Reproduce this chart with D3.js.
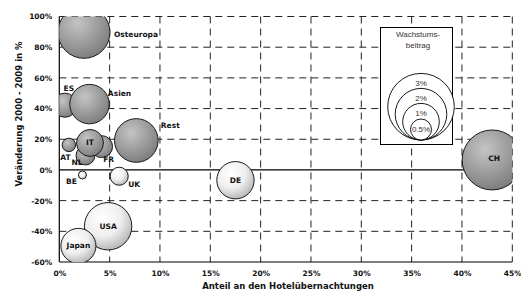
<!DOCTYPE html>
<html lang="de">
<head>
<meta charset="UTF-8">
<script src="https://cdn.jsdelivr.net/npm/d3@7"></script>
<style>
	body { margin: 0; background: #fff; }
	svg { display: block; }
	.tick text { font-family: "DejaVu Sans", Verdana, sans-serif; font-weight: bold; font-size: 7.5px; fill: #111; }
	.lbl { font-family: "DejaVu Sans", Verdana, sans-serif; font-weight: bold; font-size: 7.5px; fill: #111; }
	.title { font-family: "DejaVu Sans", Verdana, sans-serif; font-weight: bold; font-size: 8.5px; fill: #111; }
	.leg { font-family: "Liberation Sans", Arial, sans-serif; font-size: 8px; fill: #333; }
</style>
</head>
<body>
<script>
	// ---- data ----
	const countries = ["Osteuropa", "ES", "Asien", "Rest", "FR", "NL", "AT", "IT", "BE", "UK", "DE", "USA", "Japan", "CH"];
	const share = [2.45, 0.55, 3.0, 7.65, 4.2, 2.6, 0.95, 3.05, 2.3, 5.95, 17.5, 4.85, 1.9, 43.0];      // Anteil in %
	const change = [89.7, 42.2, 42.9, 19.2, 15.2, 9.4, 16.3, 17.6, -3.3, -4.1, -6.7, -36.7, -49.5, 6.5]; // Veränderung in %
	const contrib = [2.03, 0.6, 1.19, 1.47, 0.53, 0.45, 0.32, 0.69, 0.19, 0.43, 1.05, 1.72, 0.95, 2.56]; // Wachstumsbeitrag in %

	const xTicks = [0, 5, 10, 15, 20, 25, 30, 35, 40, 45];
	const yTicks = [-60, -40, -20, 0, 20, 40, 60, 80, 100];
	const legendValues = [3, 2, 1, 0.5];
	const legendLabels = ["3%", "2%", "1%", "0.5%"];

	// ---- layout ----
	const W = 521, H = 297;
	const plot = { left: 59.3, right: 512.3, top: 16.5, bottom: 262 };

	const x = d3.scaleLinear().domain([0, 45]).range([plot.left, plot.right]);
	const y = d3.scaleLinear().domain([-60, 100]).range([plot.bottom, plot.top]);
	// bubble size scale as drawn in the legend
	const r = d3.scaleLinear().domain([0, 0.5, 1, 2, 3]).range([0, 10.5, 18.3, 25.8, 33.3]);

	// where the label sits relative to the bubble centre
	const labelOffset = {
		"Osteuropa": [52, 2], "ES": [4, -17], "Asien": [30, -11], "Rest": [34, -15],
		"AT": [-3.5, 13], "NL": [-8.5, 7], "FR": [7, 13], "BE": [-11, 6], "UK": [15, 8],
		"CH": [2, -1]
	};

	const data = countries.map((c, i) => ({ name: c, share: share[i], change: change[i], contrib: contrib[i] }));

	const svg = d3.select("body").append("svg").attr("width", W).attr("height", H);

	const defs = svg.append("defs");
	const gDark = defs.append("radialGradient").attr("id", "gDark")
		.attr("cx", "38%").attr("cy", "32%").attr("r", "72%");
	gDark.append("stop").attr("offset", "0%").attr("stop-color", "#c4c4c4");
	gDark.append("stop").attr("offset", "100%").attr("stop-color", "#7c7c7c");
	const gLight = defs.append("radialGradient").attr("id", "gLight")
		.attr("cx", "38%").attr("cy", "32%").attr("r", "72%");
	gLight.append("stop").attr("offset", "0%").attr("stop-color", "#ffffff");
	gLight.append("stop").attr("offset", "55%").attr("stop-color", "#eeeeee");
	gLight.append("stop").attr("offset", "100%").attr("stop-color", "#b4b4b4");

	defs.append("clipPath").attr("id", "plotClip").append("rect")
		.attr("x", plot.left).attr("y", plot.top)
		.attr("width", plot.right - plot.left).attr("height", plot.bottom - plot.top);

	// ---- grid ----
	const grid = svg.append("g").attr("stroke", "#222").attr("stroke-width", 1).attr("stroke-dasharray", "7,5");
	grid.selectAll(".vg").data(xTicks.filter(d => d > 0)).enter().append("line")
		.attr("x1", d => x(d)).attr("x2", d => x(d)).attr("y1", plot.top).attr("y2", plot.bottom);
	grid.selectAll(".hg").data(yTicks.filter(d => d !== 0 && d !== -60)).enter().append("line")
		.attr("x1", plot.left).attr("x2", plot.right).attr("y1", d => y(d)).attr("y2", d => y(d));

	// solid axes lines
	svg.append("line").attr("x1", plot.left).attr("x2", plot.right).attr("y1", y(0)).attr("y2", y(0))
		.attr("stroke", "#000").attr("stroke-width", 1.2);
	svg.append("line").attr("x1", plot.left).attr("x2", plot.right).attr("y1", plot.bottom).attr("y2", plot.bottom)
		.attr("stroke", "#000").attr("stroke-width", 1.2);
	svg.append("line").attr("x1", plot.left).attr("x2", plot.left).attr("y1", plot.top).attr("y2", plot.bottom)
		.attr("stroke", "#000").attr("stroke-width", 1.2);

	// ---- legend box ----
	const leg = svg.append("g");
	leg.append("rect").attr("x", 380.5).attr("y", 27.5).attr("width", 72).attr("height", 117)
		.attr("fill", "#fff").attr("stroke", "#000").attr("stroke-width", 1);
	leg.append("text").attr("class", "leg").attr("x", 418).attr("y", 36.5).attr("text-anchor", "middle").text("Wachstums-");
	leg.append("text").attr("class", "leg").attr("x", 418).attr("y", 47.5).attr("text-anchor", "middle").text("beitrag");
	const legBottom = 140, legCx = 421;
	leg.selectAll("circle").data(legendValues).enter().append("circle")
		.attr("cx", legCx).attr("cy", d => legBottom - r(d)).attr("r", d => r(d))
		.attr("fill", "#fff").attr("stroke", "#000").attr("stroke-width", 0.9);
	leg.selectAll(".ll").data(legendValues).enter().append("text").attr("class", "leg")
		.attr("x", legCx).attr("y", d => legBottom - 2 * r(d) + 10)
		.attr("text-anchor", "middle").attr("dominant-baseline", "central")
		.text((d, i) => legendLabels[i]);

	// ---- bubbles ----
	const bubbles = svg.append("g").attr("clip-path", "url(#plotClip)");
	bubbles.selectAll("circle").data(data).enter().append("circle")
		.attr("cx", d => x(d.share)).attr("cy", d => y(d.change)).attr("r", d => r(d.contrib))
		.attr("fill", d => d.change >= 0 ? "url(#gDark)" : "url(#gLight)")
		.attr("stroke", "#1a1a1a").attr("stroke-width", 1);

	svg.append("g").selectAll("text").data(data).enter().append("text").attr("class", "lbl")
		.attr("x", d => x(d.share) + (labelOffset[d.name] || [0, 0])[0])
		.attr("y", d => y(d.change) + (labelOffset[d.name] || [0, 0])[1])
		.attr("text-anchor", "middle").attr("dominant-baseline", "central")
		.text(d => d.name);

	// ---- axes ----
	svg.append("g").attr("transform", `translate(0,${plot.bottom})`)
		.call(d3.axisBottom(x).tickValues(xTicks).tickSize(0).tickPadding(9).tickFormat(d => d + "%"))
		.call(g => g.select(".domain").remove());
	svg.append("g").attr("transform", `translate(${plot.left},0)`)
		.call(d3.axisLeft(y).tickValues(yTicks).tickSize(0).tickPadding(7).tickFormat(d => d + "%"))
		.call(g => g.select(".domain").remove());

	svg.append("text").attr("class", "title").attr("x", 288).attr("y", 288.5).attr("text-anchor", "middle")
		.text("Anteil an den Hotelübernachtungen");
	svg.append("text").attr("class", "title")
		.attr("transform", "translate(22,114) rotate(-90)").attr("text-anchor", "middle")
		.text("Veränderung 2000 - 2009 in %");
</script>
</body>
</html>
